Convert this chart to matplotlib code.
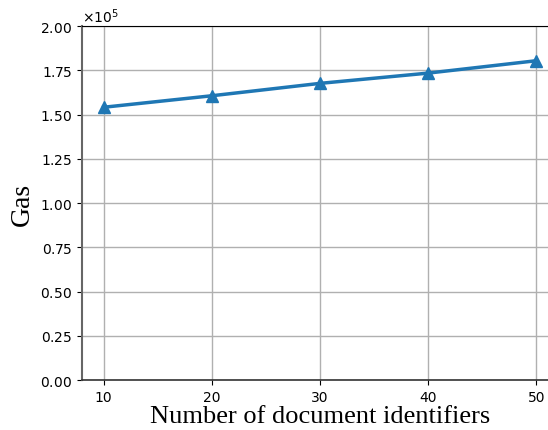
import matplotlib.pyplot as plt
import numpy as np

# Gas cost against number of document identifiers
num_ids = np.array([10, 20, 30, 40, 50])
gas = np.array([154100, 160600, 167600, 173400, 180400])

fig = plt.figure(figsize=(5.48, 4.31), dpi=100)
ax = fig.add_axes([0.1496, 0.116, 0.8686, 0.8213])

ax.plot(num_ids, gas, color='tab:blue', linewidth=2.5, marker='^', markersize=8)

ax.set_ylim(0, 200000)
ax.set_yticks(np.arange(0, 200001, 25000))
ax.set_xticks(num_ids)
ax.ticklabel_format(axis='y', style='sci', scilimits=(0, 0), useMathText=True)
ax.grid(True, color='#b0b0b0', linewidth=1)

ax.spines['left'].set_color('#666666')
ax.spines['left'].set_linewidth(1.5)
ax.spines['bottom'].set_color('#333333')
ax.spines['bottom'].set_linewidth(1.2)

ax.set_xlabel('Number of document identifiers', fontfamily='Liberation Serif', fontsize=19, labelpad=1)
ax.set_ylabel('Gas', fontfamily='Liberation Serif', fontsize=20)

fig.savefig('out.png', dpi=100)
